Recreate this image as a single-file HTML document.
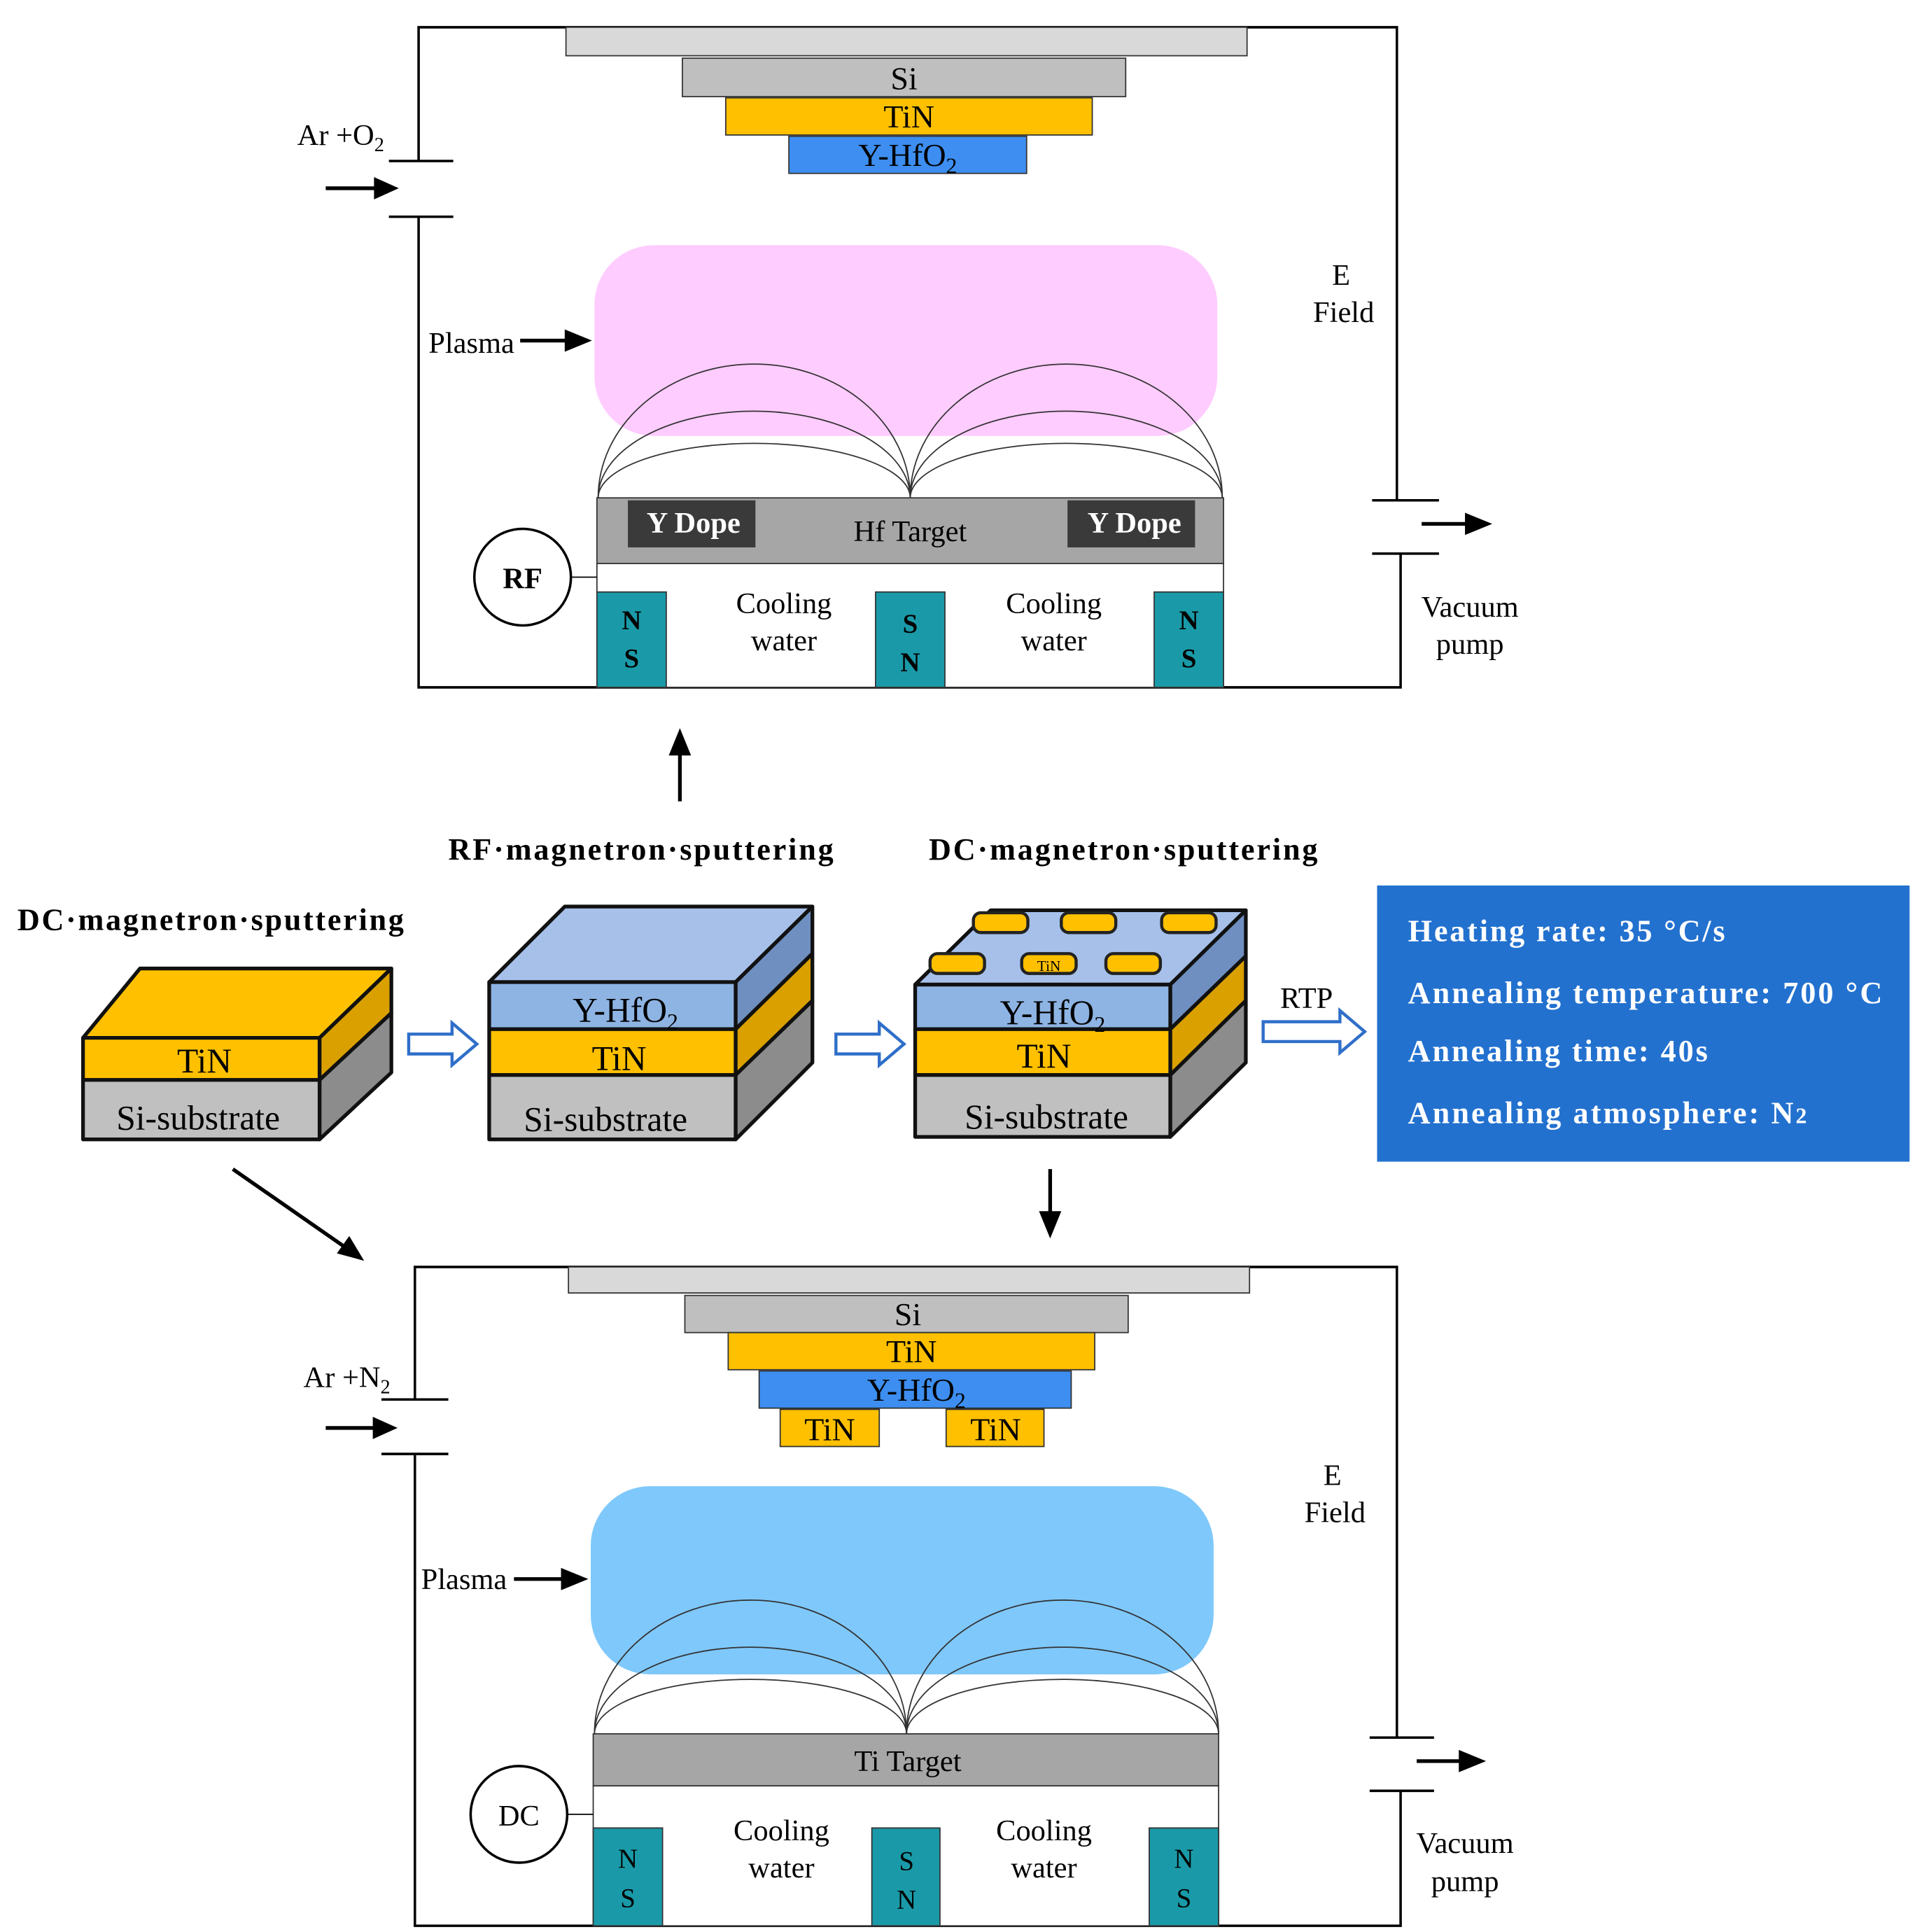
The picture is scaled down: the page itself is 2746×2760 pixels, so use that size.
<!DOCTYPE html>
<html><head><meta charset="utf-8"><style>html,body{margin:0;padding:0;background:#fff}svg{display:block}</style></head><body>
<svg width="2746" height="2760" viewBox="0 0 1552 1560" xmlns="http://www.w3.org/2000/svg" font-family="Liberation Serif, serif">
<g stroke="#000" stroke-width="2" fill="none">
<polyline points="338,130 338,22 1128,22 1128,404"/>
<polyline points="338,175 338,555 1131,555 1131,447"/>
<line x1="314" y1="130" x2="366" y2="130"/><line x1="314" y1="175" x2="366" y2="175"/>
<line x1="1108" y1="404" x2="1162" y2="404"/><line x1="1108" y1="447" x2="1162" y2="447"/>
</g>
<g stroke="#000" stroke-width="3">
<line x1="263" y1="152" x2="308" y2="152"/><path d="M322,152 l-20,-9 v18z" fill="#000" stroke="none"/>
<line x1="1148" y1="423" x2="1188" y2="423"/><path d="M1205,423 l-22,-9 v18z" fill="#000" stroke="none"/>
<line x1="420" y1="275" x2="460" y2="275"/><path d="M478,275 l-22,-9 v18z" fill="#000" stroke="none"/>
<line x1="549" y1="647" x2="549" y2="605"/><path d="M549,588 l-9,22 h18z" fill="#000" stroke="none"/>
</g>
<g stroke="#333" stroke-width="1">
<rect x="457" y="22" width="550" height="23" fill="#d9d9d9"/>
<rect x="551" y="47" width="358" height="31" fill="#bfbfbf"/>
<rect x="586" y="79" width="296" height="30" fill="#ffc000"/>
<rect x="637" y="110" width="192" height="30" fill="#3d8ef0"/>
</g>
<g font-size="26" text-anchor="middle">
<text x="730" y="72">Si</text><text x="734" y="103">TiN</text><text x="733" y="134">Y-HfO<tspan font-size="18" dy="6">2</tspan></text>
</g>
<rect x="480" y="198" width="503" height="154" rx="48" fill="#ffccff"/>
<g stroke="#333" stroke-width="1" fill="none">
<path d="M483,402 A126,108 0 0 1 735,402"/><path d="M483,402 A126,70 0 0 1 735,402"/><path d="M483,402 A126,44 0 0 1 735,402"/>
<path d="M735,402 A126,108 0 0 1 987,402"/><path d="M735,402 A126,70 0 0 1 987,402"/><path d="M735,402 A126,44 0 0 1 987,402"/>
</g>
<rect x="482" y="402" width="506" height="53" fill="#a6a6a6" stroke="#333"/>
<rect x="507" y="404" width="103" height="38" fill="#3a3a3a"/><rect x="862" y="404" width="103" height="38" fill="#3a3a3a"/>
<g font-size="24" font-weight="bold" fill="#fff" text-anchor="middle"><text x="560" y="430">Y Dope</text><text x="916" y="430">Y Dope</text></g>
<text x="735" y="437" font-size="24" text-anchor="middle">Hf  Target</text>
<rect x="482" y="455" width="506" height="100" fill="#fff" stroke="#333"/>
<g fill="#1a9aa8" stroke="#333"><rect x="482" y="478" width="56" height="77"/><rect x="707" y="478" width="56" height="77"/><rect x="932" y="478" width="56" height="77"/></g>
<g font-size="22" font-weight="bold" text-anchor="middle"><text x="510" y="508">N</text><text x="510" y="539">S</text><text x="735" y="511">S</text><text x="735" y="542">N</text><text x="960" y="508">N</text><text x="960" y="539">S</text></g>
<g font-size="24" text-anchor="middle"><text x="633" y="495">Cooling</text><text x="633" y="525">water</text><text x="851" y="495">Cooling</text><text x="851" y="525">water</text></g>
<circle cx="422" cy="466" r="39" fill="#fff" stroke="#000" stroke-width="2"/><line x1="461" y1="466" x2="482" y2="466" stroke="#000"/>
<text x="422" y="475" font-size="24" font-weight="bold" text-anchor="middle">RF</text>
<g font-size="24"><text x="240" y="117">Ar +O<tspan font-size="16" dy="5">2</tspan></text><text x="346" y="285">Plasma</text>
<text x="1083" y="230" text-anchor="middle">E</text><text x="1085" y="260" text-anchor="middle">Field</text>
<text x="1187" y="498" text-anchor="middle">Vacuum</text><text x="1187" y="528" text-anchor="middle">pump</text></g>

<g font-size="25" font-weight="bold"><text x="14" y="751" textLength="312">DC·magnetron·sputtering</text><text x="362" y="694" textLength="311">RF·magnetron·sputtering</text><text x="750" y="694" textLength="314">DC·magnetron·sputtering</text></g>
<!-- block 1 -->
<g stroke="#111" stroke-width="3" stroke-linejoin="round">
<polygon points="67,838 113,782 316,782 258,838" fill="#ffc000"/>
<polygon points="258,838 316,782 316,818 258,872" fill="#d9a000"/>
<polygon points="258,872 316,818 316,866 258,920" fill="#8c8c8c"/>
<rect x="67" y="838" width="191" height="34" fill="#ffc000"/>
<rect x="67" y="872" width="191" height="48" fill="#c0c0c0"/>
</g>
<g font-size="28" text-anchor="middle"><text x="165" y="866">TiN</text><text x="160" y="912">Si-substrate</text></g>
<!-- block 2 -->
<g stroke="#111" stroke-width="3" stroke-linejoin="round">
<polygon points="395,793 456,732 656,732 594,793" fill="#a6c0ea"/>
<polygon points="594,793 656,732 656,770 594,831" fill="#6f8fc0"/>
<polygon points="594,831 656,770 656,808 594,868" fill="#d9a000"/>
<polygon points="594,868 656,808 656,858 594,920" fill="#8c8c8c"/>
<rect x="395" y="793" width="199" height="38" fill="#8eb4e3"/>
<rect x="395" y="831" width="199" height="37" fill="#ffc000"/>
<rect x="395" y="868" width="199" height="52" fill="#c0c0c0"/>
</g>
<g font-size="28" text-anchor="middle"><text x="505" y="825">Y-HfO<tspan font-size="18" dy="6">2</tspan></text><text x="500" y="864">TiN</text><text x="489" y="913">Si-substrate</text></g>
<!-- block 3 -->
<g stroke="#111" stroke-width="3" stroke-linejoin="round">
<polygon points="739,795 800,735 1006,735 945,795" fill="#a6c0ea"/>
<polygon points="945,795 1006,735 1006,772 945,831" fill="#6f8fc0"/>
<polygon points="945,831 1006,772 1006,808 945,868" fill="#d9a000"/>
<polygon points="945,868 1006,808 1006,858 945,918" fill="#8c8c8c"/>
<rect x="739" y="795" width="206" height="36" fill="#8eb4e3"/>
<rect x="739" y="831" width="206" height="37" fill="#ffc000"/>
<rect x="739" y="868" width="206" height="50" fill="#c0c0c0"/>
</g>
<g stroke="#222" stroke-width="2.5" fill="#ffc000">
<rect x="786" y="737" width="44" height="16" rx="6"/><rect x="857" y="737" width="44" height="16" rx="6"/><rect x="938" y="737" width="44" height="16" rx="6"/>
<rect x="751" y="770" width="44" height="16" rx="6"/><rect x="825" y="770" width="44" height="16" rx="6"/><rect x="893" y="770" width="44" height="16" rx="6"/>
</g>
<text x="847" y="784" font-size="12" text-anchor="middle">TiN</text>
<g font-size="28" text-anchor="middle"><text x="850" y="827">Y-HfO<tspan font-size="18" dy="6">2</tspan></text><text x="843" y="862">TiN</text><text x="845" y="911">Si-substrate</text></g>
<g fill="#fff" stroke="#2f6fc9" stroke-width="2.5">
<polygon points="330,835 365,835 365,826 385,843 365,860 365,851 330,851"/>
<polygon points="675,835 710,835 710,826 730,843 710,860 710,851 675,851"/>
<polygon points="1020,825 1082,825 1082,816 1102,833 1082,850 1082,841 1020,841"/>
</g>
<text x="1055" y="814" font-size="24" text-anchor="middle">RTP</text>
<rect x="1112" y="715" width="430" height="223" fill="#2371cf"/>
<g font-size="25" font-weight="bold" fill="#fff"><text x="1137" y="760" textLength="256">Heating rate: 35 °C/s</text><text x="1137" y="810" textLength="383">Annealing temperature: 700 °C</text><text x="1137" y="857" textLength="242">Annealing time: 40s</text><text x="1137" y="907" textLength="322">Annealing atmosphere: N<tspan font-size="18">2</tspan></text></g>
<g stroke="#000" stroke-width="3">
<line x1="848" y1="944" x2="848" y2="982"/><path d="M848,1000 l-9,-22 h18z" fill="#000" stroke="none"/>
<line x1="188" y1="944" x2="280" y2="1008"/><path d="M294,1018 l-12,-20 l-10,14z" fill="#000" stroke="none"/>
</g>

<g stroke="#000" stroke-width="2" fill="none">
<polyline points="335,1130 335,1023 1128,1023 1128,1403"/>
<polyline points="335,1175 335,1555 1131,1555 1131,1446"/>
<line x1="308" y1="1130" x2="362" y2="1130"/><line x1="308" y1="1174" x2="362" y2="1174"/>
<line x1="1106" y1="1403" x2="1158" y2="1403"/><line x1="1106" y1="1446" x2="1158" y2="1446"/>
</g>
<g stroke="#000" stroke-width="3">
<line x1="263" y1="1153" x2="305" y2="1153"/><path d="M321,1153 l-20,-9 v18z" fill="#000" stroke="none"/>
<line x1="1144" y1="1422" x2="1183" y2="1422"/><path d="M1200,1422 l-22,-9 v18z" fill="#000" stroke="none"/>
<line x1="415" y1="1275" x2="457" y2="1275"/><path d="M475,1275 l-22,-9 v18z" fill="#000" stroke="none"/>
</g>
<g stroke="#333" stroke-width="1">
<rect x="459" y="1023" width="550" height="21" fill="#d9d9d9"/>
<rect x="553" y="1046" width="358" height="30" fill="#bfbfbf"/>
<rect x="588" y="1076" width="296" height="30" fill="#ffc000"/>
<rect x="613" y="1107" width="252" height="30" fill="#3d8ef0"/>
<rect x="630" y="1138" width="80" height="30" fill="#ffc000"/>
<rect x="764" y="1138" width="79" height="30" fill="#ffc000"/>
</g>
<g font-size="26" text-anchor="middle">
<text x="733" y="1070">Si</text><text x="736" y="1100">TiN</text><text x="740" y="1131">Y-HfO<tspan font-size="18" dy="6">2</tspan></text>
<text x="670" y="1163">TiN</text><text x="804" y="1163">TiN</text>
</g>
<rect x="477" y="1200" width="503" height="152" rx="48" fill="#7fc8fb"/>
<g stroke="#333" stroke-width="1" fill="none">
<path d="M480,1400 A126,108 0 0 1 732,1400"/><path d="M480,1400 A126,70 0 0 1 732,1400"/><path d="M480,1400 A126,44 0 0 1 732,1400"/>
<path d="M732,1400 A126,108 0 0 1 984,1400"/><path d="M732,1400 A126,70 0 0 1 984,1400"/><path d="M732,1400 A126,44 0 0 1 984,1400"/>
</g>
<rect x="479" y="1400" width="505" height="42" fill="#a6a6a6" stroke="#333"/>
<text x="733" y="1430" font-size="24" text-anchor="middle">Ti  Target</text>
<rect x="479" y="1442" width="505" height="113" fill="#fff" stroke="#333"/>
<g fill="#1a9aa8" stroke="#333"><rect x="479" y="1476" width="56" height="79"/><rect x="704" y="1476" width="55" height="79"/><rect x="928" y="1476" width="56" height="79"/></g>
<g font-size="22" text-anchor="middle"><text x="507" y="1508">N</text><text x="507" y="1540">S</text><text x="732" y="1510">S</text><text x="732" y="1541">N</text><text x="956" y="1508">N</text><text x="956" y="1540">S</text></g>
<g font-size="24" text-anchor="middle"><text x="631" y="1486">Cooling</text><text x="631" y="1516">water</text><text x="843" y="1486">Cooling</text><text x="843" y="1516">water</text></g>
<circle cx="419" cy="1465" r="39" fill="#fff" stroke="#000" stroke-width="2"/><line x1="458" y1="1465" x2="479" y2="1465" stroke="#000"/>
<text x="419" y="1474" font-size="24" text-anchor="middle">DC</text>
<g font-size="24"><text x="245" y="1120">Ar +N<tspan font-size="16" dy="5">2</tspan></text><text x="340" y="1283">Plasma</text>
<text x="1076" y="1199" text-anchor="middle">E</text><text x="1078" y="1229" text-anchor="middle">Field</text>
<text x="1183" y="1496" text-anchor="middle">Vacuum</text><text x="1183" y="1527" text-anchor="middle">pump</text></g>
</svg>
</body></html>
